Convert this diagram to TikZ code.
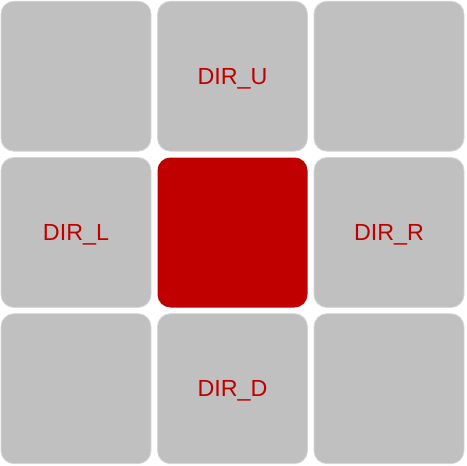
\documentclass[tikz,border=0pt]{standalone}
\usepackage{fontspec}
\setmainfont{Liberation Sans}
\definecolor{cellgray}{RGB}{192,192,192}
\definecolor{cellrim}{RGB}{214,214,214}
\definecolor{cellred}{RGB}{192,0,0}
\begin{document}
\begin{tikzpicture}[x=1pt,y=-1pt,
  cell/.style={fill=cellgray,draw=cellrim,line width=0.8pt,rounded corners=13pt},
  hot/.style={fill=cellred,draw=none,rounded corners=13pt},
  lbl/.style={text=cellred,font=\fontsize{23.3}{26}\selectfont,anchor=base,inner sep=0pt}]
\useasboundingbox (0,0) rectangle (467,466);
\foreach \c/\x in {0/1,1/157.5,2/314}{
  \foreach \r/\y in {0/1.2,1/157.5,2/313.7}{
    \ifnum\c=1 \ifnum\r=1
      \path[hot] (\x,\y) rectangle ++(150,150);
    \else
      \path[cell] (\x,\y) rectangle ++(150,150);
    \fi
    \else
      \path[cell] (\x,\y) rectangle ++(150,150);
    \fi
  }
}
\node[lbl] (u) at (232.5,84.3) {DIR\_U};
\node[lbl] (l) at (76,240.6) {DIR\_L};
\node[lbl] (r) at (389,240.6) {DIR\_R};
\node[lbl] (d) at (232.5,396.8) {DIR\_D};
\end{tikzpicture}
\end{document}
